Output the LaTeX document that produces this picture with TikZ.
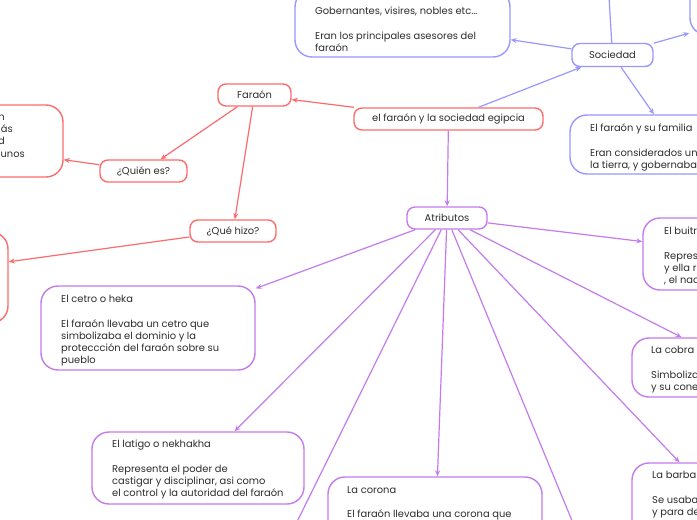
\documentclass[tikz,border=0pt]{standalone}
\usepackage{fontspec}
\setmainfont{Poppins}
\usetikzlibrary{arrows.meta}
\definecolor{cred}{RGB}{252,108,108}
\definecolor{cpur}{RGB}{196,124,236}
\definecolor{cblu}{RGB}{152,152,255}
\definecolor{ctxt}{RGB}{45,45,45}
\newcommand{\fnt}{\fontsize{9.9}{12.3}\selectfont}
\tikzset{
  smallbox/.style={draw=#1, fill=white, rounded corners=8pt, line width=1.4pt, minimum height=22pt, inner sep=0pt, text=ctxt, font=\fnt},
  bigbox/.style={draw=#1, fill=white, rounded corners=17pt, line width=1.4pt, inner sep=0pt},
  txt/.style={align=left, inner sep=0pt, anchor=north west, text=ctxt, font=\fnt, execute at begin node={\strut}, yshift=-2.5pt},
  txtr/.style={inner sep=0pt, anchor=base east, text=ctxt, font=\fnt},
  conn/.style={draw=#1, line width=1.2pt, -{Stealth[length=6pt,width=5pt]}},
  plain/.style={draw=#1, line width=1.2pt},
}
\begin{document}
\begin{tikzpicture}[x=1pt,y=-1pt]
\useasboundingbox (0,0) rectangle (697,520);
\clip (0,0) rectangle (697,520);
\fill[white] (0,0) rectangle (697,520);

% central and red branch
\node[smallbox=cred, minimum width=189pt] (main) at (448.5,119) {el faraón y la sociedad egipcia};
\node[smallbox=cred, minimum width=73pt] (faraon) at (254.5,95) {Faraón};
\node[smallbox=cred, minimum width=87pt] (quien) at (143.5,171) {¿Quién es?};
\node[smallbox=cred, minimum width=86pt] (quehizo) at (233,231) {¿Qué hizo?};
\node[bigbox=cred, minimum width=263pt, minimum height=72pt] (leftA) at (-68.5,141) {};
\node[txtr] (leftA1) at (5,120.5) {n};
\node[txtr] (leftA2) at (13,132.5) {ás};
\node[txtr] (leftA3) at (5,144.5) {d};
\node[txtr] (leftA4) at (25,157.5) {unos};
\node[bigbox=cred, minimum width=228pt, minimum height=91pt] (leftB) at (-106,277.5) {};

% blue branch
\node[smallbox=cblu, minimum width=81pt, minimum height=23pt] (soc) at (612.5,55) {Sociedad};
\node[bigbox=cblu, minimum width=215pt, minimum height=67pt] (gob) at (402.5,23.5) {};
\node[txt] (gobt) at (315,4.4) {Gobernantes, visires, nobles etc...\\[12.3pt]Eran los principales asesores del\\faraón};
\node[bigbox=cblu, minimum width=220pt, minimum height=67pt] (topr) at (800,1.5) {};
\node[bigbox=cblu, minimum width=210pt, minimum height=59pt] (fam) at (675,144.5) {};
\node[txt] (famt) at (590,121.4) {El faraón y su familia\\[12.3pt]Eran considerados un\\la tierra, y gobernaba};
\coordinate (socup) at (608,-20);

% purple branch
\node[smallbox=cpur, minimum width=80pt] (atrib) at (447,218) {Atributos};
\node[bigbox=cpur, minimum width=207pt, minimum height=72pt] (buitre) at (746.5,254) {};
\node[txt] (buitret) at (664,224.4) {El buitr\\[12.3pt]Repres\\y ella r\\, el nac};
\node[bigbox=cpur, minimum width=218pt, minimum height=59pt] (cobra) at (741,367.5) {};
\node[txt] (cobrat) at (651,343.4) {La cobra\\[12.3pt]Simboliza\\y su cone};
\node[bigbox=cpur, minimum width=218pt, minimum height=128pt] (barba) at (741,527) {};
\node[txt] (barbat) at (652,468.4) {La barba\\[12.3pt]Se usaba\\y para de};
\node[bigbox=cpur, minimum width=214pt, minimum height=130pt] (corona) at (435,542) {};
\node[txt] (coronat) at (347,483.4) {La corona\\[12.3pt]El faraón llevaba una corona que};
\node[bigbox=cpur, minimum width=214pt, minimum height=84pt] (cetro) at (148,328) {};
\node[txt] (cetrot) at (61,292.4) {El cetro o heka\\[12.3pt]El faraón llevaba un cetro que\\simbolizaba el dominio y la\\proteccción del faraón sobre su\\pueblo};
\node[bigbox=cpur, minimum width=212pt, minimum height=72pt] (latigo) at (198,468) {};
\node[txt] (latigot) at (112,437.4) {El latigo o nekhakha\\[12.3pt]Representa el poder de\\castigar y disciplinar, asi como\\el control y la autoridad del faraón};
\coordinate (botl) at (288,540);
\coordinate (botr) at (580,540);

% connectors
\draw[conn=cred] (main) -- (faraon);
\draw[conn=cred] (faraon) -- (quien);
\draw[conn=cred] (faraon) -- (quehizo);
\draw[conn=cred] (quien) -- (leftA);
\draw[conn=cred] (quehizo) -- (leftB);
\draw[conn=cblu] (main) -- (soc);
\draw[conn=cblu] (soc) -- (gob);
\draw[conn=cblu] (soc) -- (topr);
\draw[conn=cblu] (soc) -- (fam);
\draw[plain=cblu] (soc) -- (socup);
\draw[conn=cpur] (main) -- (atrib);
\draw[conn=cpur] (atrib) -- (buitre);
\draw[conn=cpur] (atrib) -- (cobra);
\draw[conn=cpur] (atrib) -- (barba);
\draw[conn=cpur] (atrib) -- (corona);
\draw[conn=cpur] (atrib) -- (cetro);
\draw[conn=cpur] (atrib) -- (latigo);
\draw[plain=cpur] (atrib) -- (botl);
\draw[plain=cpur] (atrib) -- (botr);
\end{tikzpicture}
\end{document}
